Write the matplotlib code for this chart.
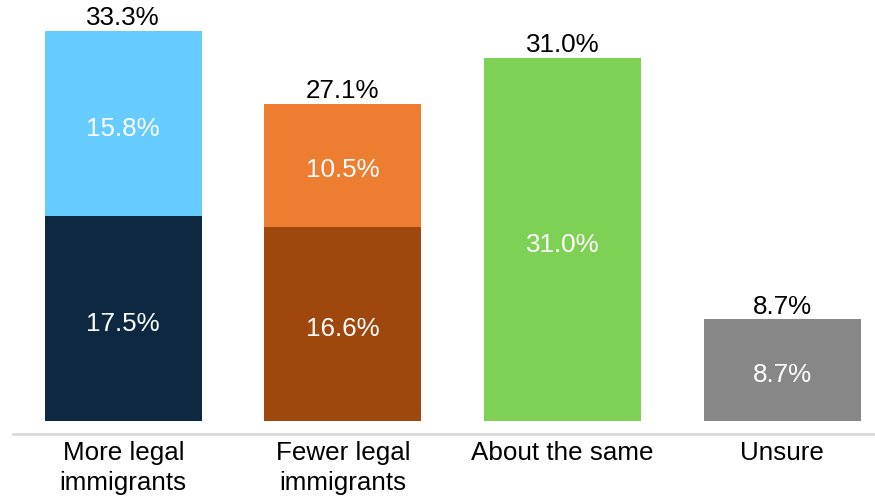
import matplotlib
matplotlib.use("Agg")
import matplotlib.pyplot as plt

categories = ["More legal\nimmigrants", "Fewer legal\nimmigrants", "About the same", "Unsure"]
bottom_vals = [17.5, 16.6, 31.0, 8.7]
top_vals = [15.8, 10.5, 0.0, 0.0]
totals = [33.3, 27.1, 31.0, 8.7]
bottom_colors = ["#0E2841", "#9E480E", "#7FD155", "#878787"]
top_colors = ["#66CCFF", "#ED7D31", "#7FD155", "#878787"]

plt.rcParams['font.family'] = ['Liberation Sans', 'DejaVu Sans']
FS = 18.7

fig = plt.figure(figsize=(8.75, 5.0), dpi=100)
ax = fig.add_axes([13/875, 1 - 434/500, 1 - 13/875, 434/500])

x = list(range(len(categories)))
w = 0.715
ax.bar(x, bottom_vals, width=w, color=bottom_colors)
ax.bar(x, top_vals, width=w, bottom=bottom_vals, color=top_colors)

for i in x:
    b = bottom_vals[i]
    t = top_vals[i]
    ax.text(i, b / 2 - 0.45, f"{b:.1f}%", ha="center", va="center", color="white", fontsize=FS)
    if t > 0:
        ax.text(i, b + t / 2 - 0.45, f"{t:.1f}%", ha="center", va="center", color="white", fontsize=FS)
    ax.text(i, totals[i] + 0.05, f"{totals[i]:.1f}%", ha="center", va="bottom", color="black", fontsize=FS)

ax.set_xlim(-0.502, 3.422)
ax.set_ylim(-1.11, 35.95)
ax.set_xticks(x)
ax.set_xticklabels(categories, fontsize=FS, linespacing=1.3)
ax.tick_params(axis="x", length=0, pad=5)
ax.set_yticks([])
for s in ["top", "left", "right"]:
    ax.spines[s].set_visible(False)
ax.spines["bottom"].set_color("#D9D9D9")
ax.spines["bottom"].set_linewidth(2)

fig.savefig("out.png", dpi=100)
